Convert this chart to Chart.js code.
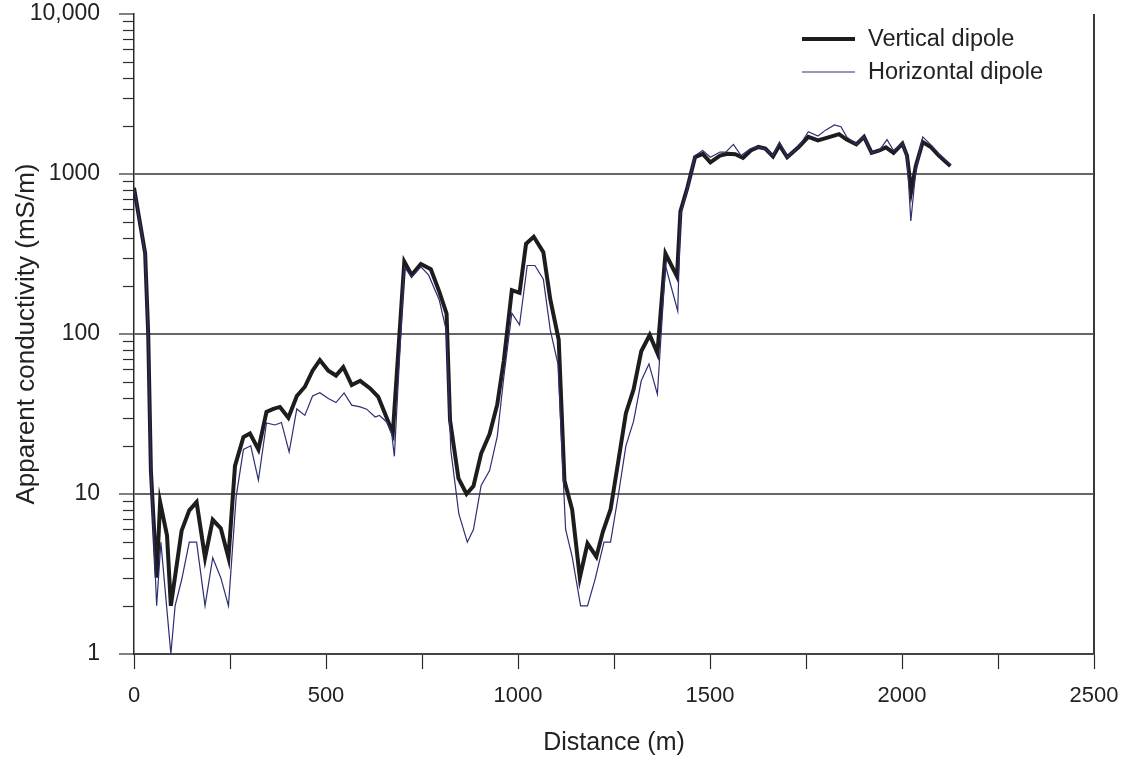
<!DOCTYPE html>
<html>
<head>
<meta charset="utf-8">
<script src="https://cdn.jsdelivr.net/npm/chart.js@4.4.1/dist/chart.umd.min.js"></script>
<style>
    body { margin: 0; background: #ffffff; }
    canvas { display: block; }
</style>
</head>
<body>
<canvas id="conductivityChart" width="1131" height="767"></canvas>
<script>
// distance (m) / apparent conductivity (mS/m)
var verticalDistance = [0, 29, 37, 44, 59, 68, 86, 96, 124, 144, 163, 185, 205, 226, 246, 263, 285, 302, 324, 345,
    363, 380, 402, 424, 445, 465, 484, 506, 526, 545, 567, 589, 615, 636, 658, 674, 704, 723, 747, 773,
    795, 814, 823, 845, 866, 884, 904, 926, 946, 963, 984, 1004, 1021, 1041, 1066, 1084, 1106, 1121, 1141, 1161,
    1181, 1204, 1221, 1241, 1261, 1281, 1301, 1321, 1343, 1363, 1384, 1414, 1423, 1441, 1461, 1481, 1501, 1526, 1546, 1566,
    1586, 1606, 1626, 1644, 1664, 1681, 1701, 1731, 1756, 1781, 1806, 1836, 1856, 1881, 1901, 1921, 1941, 1958, 1978, 2001,
    2013, 2024, 2036, 2054, 2076, 2096, 2126];
var verticalDipole = [820, 320, 100, 14, 3, 8.9, 5.5, 2, 5.9, 7.9, 8.9, 4, 6.9, 6.1, 4, 15, 22.7, 23.9, 19, 32.6,
    34, 35, 30, 41, 46.8, 59, 68.7, 59, 55, 62, 48, 51, 45.7, 40.5, 30, 24, 283, 234, 274, 254,
    184, 134, 29, 12.5, 10, 11.2, 17.9, 23.7, 36.3, 68, 188, 181, 367, 405, 324, 165, 92, 12.1, 8, 3,
    4.9, 4.06, 5.8, 8, 15.9, 32, 45, 78, 98.6, 76, 318, 229, 584, 821, 1273, 1336, 1183, 1303, 1336, 1328,
    1260, 1403, 1476, 1440, 1286, 1514, 1273, 1476, 1706, 1623, 1687, 1774, 1640, 1532, 1706, 1356, 1403, 1466, 1356, 1549,
    1303, 782, 1123, 1584, 1466, 1303, 1123];

var horizontalDistance = [0, 29, 37, 44, 59, 70, 96, 107, 124, 144, 163, 185, 205, 226, 246, 266, 285, 304, 324, 345,
    367, 384, 404, 424, 445, 465, 484, 506, 526, 547, 567, 589, 606, 628, 639, 658, 671, 678, 704, 723,
    747, 767, 795, 814, 825, 846, 868, 884, 904, 926, 946, 963, 984, 1004, 1024, 1044, 1066, 1084, 1104, 1124,
    1141, 1163, 1181, 1201, 1224, 1241, 1261, 1281, 1301, 1321, 1341, 1363, 1384, 1416, 1423, 1441, 1461, 1481, 1501, 1526,
    1541, 1561, 1581, 1606, 1626, 1644, 1664, 1681, 1701, 1731, 1756, 1781, 1801, 1824, 1841, 1856, 1881, 1901, 1921, 1941,
    1961, 1978, 2001, 2013, 2023, 2036, 2054, 2076, 2096, 2126];
var horizontalDipole = [820, 320, 100, 14, 2, 5, 1, 2, 2.9, 5, 5, 2, 4, 3, 2, 9.6, 19, 20, 12.2, 27.8,
    27, 28, 18.3, 34, 31, 41, 43, 39.5, 37.3, 42.8, 35.9, 35, 33.9, 30.3, 31, 28.2, 24, 17.2, 263, 226,
    263, 234, 163, 103, 18.8, 7.5, 5, 6, 11.3, 14, 22.9, 53.7, 135, 114, 268, 268, 220, 106, 65, 6,
    4.06, 2, 2, 2.95, 5, 5, 9.75, 20, 28.5, 51, 65, 42, 268, 139, 556, 801, 1303, 1403, 1273, 1371,
    1371, 1532, 1303, 1440, 1476, 1430, 1303, 1584, 1273, 1476, 1838, 1726, 1880, 2024, 1973, 1706, 1532, 1706, 1356, 1403,
    1640, 1403, 1560, 1273, 509, 1047, 1706, 1514, 1336, 1140];

var seriesNames = ['Vertical dipole', 'Horizontal dipole'];

var xTickValues = [0, 250, 500, 750, 1000, 1250, 1500, 1750, 2000, 2250, 2500];
var xTickLabels = ['0', '', '500', '', '1000', '', '1500', '', '2000', '', '2500'];

var yMajorValues = [1, 10, 100, 1000, 10000];
var yMajorLabels = ['1', '10', '100', '1000', '10,000'];
var yGridValues = [10, 100, 1000];

var thickColor = '#1d1d1d';
var thinColor = '#2c2f72';
var axisColor = '#2a2a2a';
var textColor = '#222222';
var fontFamily = '"Liberation Sans", Arial, Helvetica, sans-serif';

function toPoints(xs, ys) {
    var pts = [];
    for (var i = 0; i < xs.length; i++) {
        pts.push({ x: xs[i], y: ys[i] });
    }
    return pts;
}

function yTickList() {
    var list = [];
    for (var d = 0; d < yMajorValues.length; d++) {
        var base = yMajorValues[d];
        list.push(base);
        if (base == 10000) break;
        for (var m = 2; m <= 9; m++) {
            list.push(base * m);
        }
    }
    return list;
}

function isMajor(v) {
    return yMajorValues.indexOf(v) >= 0;
}

// minor y ticks, right border, legend
var extrasPlugin = {
    id: 'extras',
    afterDraw: function (chart) {
        var ctx = chart.ctx;
        var area = chart.chartArea;
        var yScale = chart.scales.y;

        ctx.save();
        ctx.strokeStyle = axisColor;
        ctx.lineWidth = 1.2;
        var ticks = yTickList();
        for (var i = 0; i < ticks.length; i++) {
            if (isMajor(ticks[i])) continue;
            var py = Math.round(yScale.getPixelForValue(ticks[i])) + 0.5;
            ctx.beginPath();
            ctx.moveTo(area.left - 11, py);
            ctx.lineTo(area.left, py);
            ctx.stroke();
        }

        ctx.strokeStyle = '#3a3a3a';
        ctx.lineWidth = 2;
        ctx.beginPath();
        ctx.moveTo(area.right, area.top);
        ctx.lineTo(area.right, area.bottom);
        ctx.stroke();

        // legend
        var lx = 802, tx = 868;
        var rows = [
            { y: 39, width: 4, color: thickColor },
            { y: 72, width: 1.2, color: thinColor }
        ];
        ctx.font = '23.5px ' + fontFamily;
        ctx.fillStyle = textColor;
        ctx.textBaseline = 'middle';
        ctx.textAlign = 'left';
        for (var r = 0; r < rows.length; r++) {
            ctx.strokeStyle = rows[r].color;
            ctx.lineWidth = rows[r].width;
            ctx.beginPath();
            ctx.moveTo(lx, rows[r].y);
            ctx.lineTo(lx + 53, rows[r].y);
            ctx.stroke();
            ctx.fillText(seriesNames[r], tx, rows[r].y + 1);
        }
        ctx.restore();
    }
};

var ctx = document.getElementById('conductivityChart').getContext('2d');
var chart = new Chart(ctx, {
    type: 'line',
    data: {
        datasets: [{
            label: seriesNames[1],
            data: toPoints(horizontalDistance, horizontalDipole),
            borderColor: thinColor,
            borderWidth: 1.2,
            pointRadius: 0,
            tension: 0,
            order: 0
        }, {
            label: seriesNames[0],
            data: toPoints(verticalDistance, verticalDipole),
            borderColor: thickColor,
            borderWidth: 4,
            borderJoinStyle: 'miter',
            pointRadius: 0,
            tension: 0,
            order: 1
        }]
    },
    options: {
        responsive: false,
        animation: false,
        events: [],
        layout: {
            padding: { top: 14, right: 37, left: 0, bottom: 0 }
        },
        plugins: {
            legend: { display: false },
            tooltip: { enabled: false }
        },
        scales: {
            x: {
                type: 'linear',
                min: 0,
                max: 2500,
                afterFit: function (scale) {
                    scale.height = 113;
                    scale.paddingLeft = 0;
                    scale.paddingRight = 0;
                },
                afterBuildTicks: function (scale) {
                    scale.ticks = xTickValues.map(function (v) { return { value: v }; });
                },
                ticks: {
                    autoSkip: false,
                    maxRotation: 0,
                    padding: 14,
                    color: textColor,
                    font: { family: fontFamily, size: 22 },
                    callback: function (value) {
                        var i = xTickValues.indexOf(value);
                        return i >= 0 ? xTickLabels[i] : '';
                    }
                },
                grid: {
                    drawOnChartArea: false,
                    drawTicks: true,
                    tickLength: 15,
                    tickColor: axisColor,
                    tickWidth: 1.2
                },
                border: { display: true, color: '#444444', width: 2 },
                title: {
                    display: true,
                    text: 'Distance (m)',
                    color: textColor,
                    font: { family: fontFamily, size: 25 },
                    padding: { top: 0, bottom: 9 }
                }
            },
            y: {
                type: 'logarithmic',
                min: 1,
                max: 10000,
                afterFit: function (scale) {
                    scale.width = 134;
                    scale.paddingTop = 0;
                    scale.paddingBottom = 0;
                },
                afterBuildTicks: function (scale) {
                    scale.ticks = yTickList().map(function (v) { return { value: v }; });
                },
                ticks: {
                    autoSkip: false,
                    padding: 19,
                    color: textColor,
                    font: { family: fontFamily, size: 23 },
                    callback: function (value) {
                        var i = yMajorValues.indexOf(value);
                        return i >= 0 ? yMajorLabels[i] : '';
                    }
                },
                grid: {
                    drawTicks: true,
                    tickLength: 15,
                    tickColor: function (c) {
                        return isMajor(c.tick.value) ? axisColor : 'rgba(0,0,0,0)';
                    },
                    tickWidth: 1.2,
                    color: function (c) {
                        return yGridValues.indexOf(c.tick.value) >= 0 ? '#666666' : 'rgba(0,0,0,0)';
                    },
                    lineWidth: 2
                },
                border: { display: true, color: axisColor, width: 1.5 },
                title: {
                    display: true,
                    text: 'Apparent conductivity (mS/m)',
                    color: textColor,
                    font: { family: fontFamily, size: 26 },
                    padding: { top: 11, bottom: 0 }
                }
            }
        }
    },
    plugins: [extrasPlugin]
});
</script>
</body>
</html>
